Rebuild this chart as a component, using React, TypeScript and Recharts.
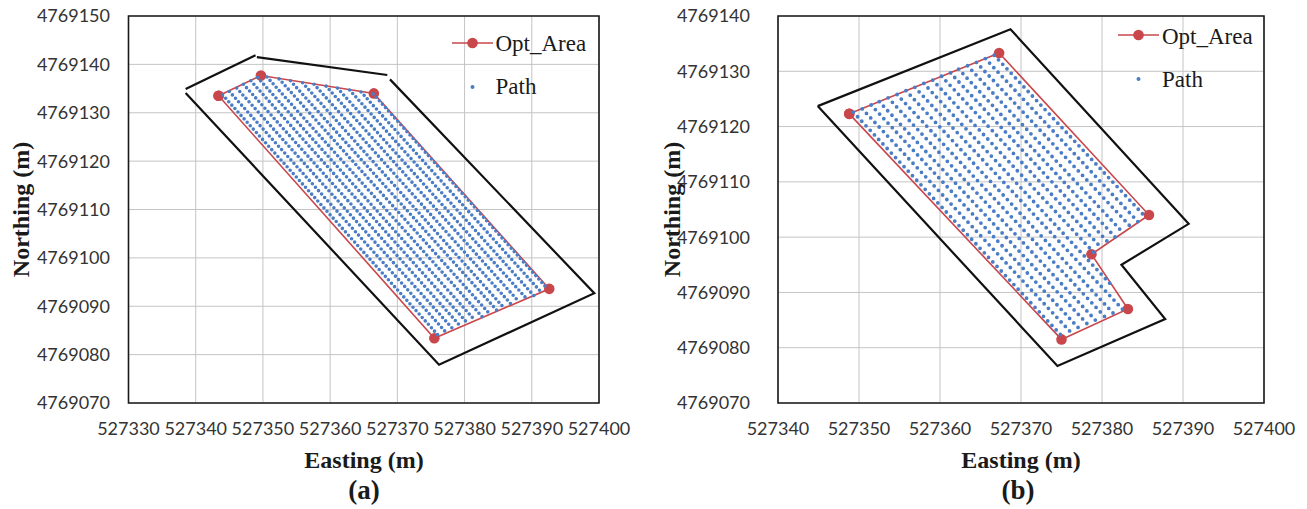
import React from 'react';
import {
  ScatterChart,
  Scatter,
  XAxis,
  YAxis,
  CartesianGrid,
  ReferenceArea,
  Legend,
} from 'recharts';

// ---------- colours / fonts ----------
const RED = '#C9474A';
const BLUE = '#4A7DC6';
const SERIF = '"Liberation Serif", "Times New Roman", serif';
const SANS = 'Lato, "Open Sans", sans-serif';

type P = { x: number; y: number };

// ---------- tick labels ----------
const xTicksA = [527330, 527340, 527350, 527360, 527370, 527380, 527390, 527400];
const yTicksA = [4769070, 4769080, 4769090, 4769100, 4769110, 4769120, 4769130, 4769140, 4769150];
const xTicksB = [527340, 527350, 527360, 527370, 527380, 527390, 527400];
const yTicksB = [4769070, 4769080, 4769090, 4769100, 4769110, 4769120, 4769130, 4769140];

const seriesNames = ['Opt_Area', 'Path'];

// ---------- panel (a) ----------
const boundaryA1: P[] = [
  { x: 527338.5, y: 4769134.9 },
  { x: 527348.9, y: 4769141.9 },
];
const boundaryA2: P[] = [
  { x: 527349.1, y: 4769141.5 },
  { x: 527368.5, y: 4769137.8 },
];
const boundaryA3: P[] = [
  { x: 527368.9, y: 4769136.9 },
  { x: 527399.3, y: 4769092.7 },
  { x: 527376.2, y: 4769077.9 },
  { x: 527338.5, y: 4769134.1 },
];
const optAreaA: P[] = [
  { x: 527343.4, y: 4769133.5 },
  { x: 527349.7, y: 4769137.7 },
  { x: 527366.5, y: 4769134.0 },
  { x: 527392.6, y: 4769093.6 },
  { x: 527375.5, y: 4769083.4 },
  { x: 527343.4, y: 4769133.5 },
];
const pathStartA: P[] = [
  { x: 527344.0, y: 4769133.7 },
  { x: 527345.0, y: 4769134.4 },
  { x: 527346.1, y: 4769135.1 },
  { x: 527347.1, y: 4769135.9 },
  { x: 527348.2, y: 4769136.6 },
  { x: 527349.2, y: 4769137.3 },
  { x: 527350.6, y: 4769137.4 },
  { x: 527352.4, y: 4769137.0 },
  { x: 527354.1, y: 4769136.6 },
  { x: 527355.9, y: 4769136.2 },
  { x: 527357.6, y: 4769135.9 },
  { x: 527359.4, y: 4769135.5 },
  { x: 527361.1, y: 4769135.1 },
  { x: 527362.9, y: 4769134.7 },
  { x: 527364.6, y: 4769134.3 },
  { x: 527366.4, y: 4769133.9 },
];
const pathEndA: P[] = [
  { x: 527376.2, y: 4769083.8 },
  { x: 527377.3, y: 4769084.5 },
  { x: 527378.4, y: 4769085.1 },
  { x: 527379.5, y: 4769085.7 },
  { x: 527380.5, y: 4769086.4 },
  { x: 527381.6, y: 4769087.0 },
  { x: 527382.7, y: 4769087.7 },
  { x: 527383.8, y: 4769088.3 },
  { x: 527384.9, y: 4769089.0 },
  { x: 527385.9, y: 4769089.6 },
  { x: 527387.0, y: 4769090.3 },
  { x: 527388.1, y: 4769090.9 },
  { x: 527389.2, y: 4769091.6 },
  { x: 527390.3, y: 4769092.2 },
  { x: 527391.4, y: 4769092.9 },
  { x: 527392.4, y: 4769093.5 },
];

// ---------- panel (b) ----------
const boundaryB: P[] = [
  { x: 527344.9, y: 4769123.7 },
  { x: 527368.7, y: 4769137.6 },
  { x: 527390.7, y: 4769102.4 },
  { x: 527382.4, y: 4769095.0 },
  { x: 527387.8, y: 4769085.2 },
  { x: 527374.5, y: 4769076.7 },
  { x: 527344.9, y: 4769123.7 },
];
const optAreaB: P[] = [
  { x: 527348.8, y: 4769122.3 },
  { x: 527367.3, y: 4769133.3 },
  { x: 527385.8, y: 4769104.0 },
  { x: 527378.7, y: 4769096.9 },
  { x: 527383.2, y: 4769087.0 },
  { x: 527375.0, y: 4769081.5 },
  { x: 527348.8, y: 4769122.3 },
];
const pathStartB: P[] = [
  { x: 527349.3, y: 4769122.6 },
  { x: 527350.4, y: 4769123.2 },
  { x: 527351.5, y: 4769123.9 },
  { x: 527352.5, y: 4769124.5 },
  { x: 527353.6, y: 4769125.2 },
  { x: 527354.7, y: 4769125.8 },
  { x: 527355.8, y: 4769126.5 },
  { x: 527356.9, y: 4769127.1 },
  { x: 527358.0, y: 4769127.8 },
  { x: 527359.1, y: 4769128.4 },
  { x: 527360.2, y: 4769129.1 },
  { x: 527361.3, y: 4769129.7 },
  { x: 527362.3, y: 4769130.4 },
  { x: 527363.4, y: 4769131.0 },
  { x: 527364.5, y: 4769131.6 },
  { x: 527365.6, y: 4769132.3 },
  { x: 527366.7, y: 4769132.9 },
];
const pathEndB: P[] = [
  { x: 527375.3, y: 4769081.7 },
  { x: 527376.4, y: 4769082.4 },
  { x: 527377.4, y: 4769083.1 },
  { x: 527378.5, y: 4769083.8 },
  { x: 527379.5, y: 4769084.5 },
  { x: 527380.6, y: 4769085.2 },
  { x: 527381.6, y: 4769085.9 },
  { x: 527382.7, y: 4769086.7 },
  { x: 527381.3, y: 4769091.1 },
  { x: 527379.0, y: 4769097.2 },
  { x: 527379.9, y: 4769098.1 },
  { x: 527380.8, y: 4769099.0 },
  { x: 527381.7, y: 4769099.9 },
  { x: 527382.6, y: 4769100.8 },
  { x: 527383.6, y: 4769101.8 },
  { x: 527384.5, y: 4769102.7 },
  { x: 527385.4, y: 4769103.6 },
];

// ---------- helpers ----------
const NoShape = () => <g />;
const RedDot = (props: any) =>
  props.cx == null ? <g /> : <circle cx={props.cx} cy={props.cy} r={5.3} fill={RED} />;

function LegendBox({ textX, dy }: { textX: number; dy: number }) {
  return (
    <svg width={170} height={75} style={{ overflow: 'visible', display: 'block' }}>
      <line x1={0} y1={10} x2={41} y2={10} stroke={RED} strokeWidth={1.6} />
      <circle cx={20.5} cy={10} r={5.3} fill={RED} />
      <text x={textX} y={18 + dy} fontFamily={SERIF} fontSize={23} fill="#1a1a1a">
        {seriesNames[0]}
      </text>
      <circle cx={20.5} cy={54} r={2} fill={BLUE} />
      <text x={textX} y={61 + dy} fontFamily={SERIF} fontSize={23} fill="#1a1a1a">
        {seriesNames[1]}
      </text>
    </svg>
  );
}

type PanelProps = {
  left: number;
  width: number;
  margin: { top: number; right: number; bottom: number; left: number };
  xTicks: number[];
  yTicks: number[];
  yTickMargin: number;
  boundaries: P[][];
  optArea: P[];
  pathStart: P[];
  pathEnd: P[];
  dash: string;
  dotSize: number;
  legendPos: { left: number; top: number };
  legendTextX: number;
  legendDy: number;
};

function Panel(p: PanelProps) {
  const xd: [number, number] = [p.xTicks[0], p.xTicks[p.xTicks.length - 1]];
  const yd: [number, number] = [p.yTicks[0], p.yTicks[p.yTicks.length - 1]];
  const tickStyle = { fill: '#333', fontSize: 18, fontFamily: SANS };
  return (
    <div style={{ position: 'absolute', left: p.left, top: 0 }}>
      <ScatterChart width={p.width} height={509} margin={p.margin}>
        <CartesianGrid stroke="#c4c4c4" strokeWidth={1} />
        <XAxis
          type="number"
          dataKey="x"
          domain={xd}
          ticks={p.xTicks}
          interval={0}
          allowDataOverflow
          axisLine={false}
          tickLine={false}
          tickSize={0}
          tickMargin={19}
          height={40}
          tick={tickStyle}
        />
        <YAxis
          type="number"
          dataKey="y"
          domain={yd}
          ticks={p.yTicks}
          interval={0}
          allowDataOverflow
          axisLine={false}
          tickLine={false}
          tickSize={0}
          tickMargin={p.yTickMargin}
          width={120}
          tick={tickStyle}
        />
        <ReferenceArea
          x1={xd[0]}
          x2={xd[1]}
          y1={yd[0]}
          y2={yd[1]}
          fill="none"
          fillOpacity={0}
          stroke="#1a1a1a"
          strokeWidth={1.6}
        />
        {p.boundaries.map((b, i) => (
          <Scatter
            key={'b' + i}
            data={b}
            fill="#000"
            line={{ stroke: '#111', strokeWidth: 2.2 }}
            shape={NoShape}
            legendType="none"
            isAnimationActive={false}
          />
        ))}
        <Scatter
          name={seriesNames[0]}
          data={p.optArea}
          fill={RED}
          line={{ stroke: RED, strokeWidth: 1.6 }}
          shape={RedDot}
          isAnimationActive={false}
        />
        {p.pathStart.map((s, i) => (
          <Scatter
            key={'p' + i}
            name={i === 0 ? seriesNames[1] : undefined}
            data={[s, p.pathEnd[i]]}
            fill={BLUE}
            line={{
              stroke: BLUE,
              strokeWidth: p.dotSize,
              strokeDasharray: p.dash,
              strokeLinecap: 'round',
            }}
            shape={NoShape}
            legendType="none"
            isAnimationActive={false}
          />
        ))}
        <Legend
          layout="horizontal"
          verticalAlign="middle"
          align="center"
          wrapperStyle={{ left: p.legendPos.left, top: p.legendPos.top, width: 170 }}
          content={() => <LegendBox textX={p.legendTextX} dy={p.legendDy} />}
        />
      </ScatterChart>
    </div>
  );
}

export default function App() {
  const titleStyle = {
    fontFamily: SERIF,
    fontWeight: 700,
    fill: '#1a1a1a',
  } as const;
  return (
    <div
      style={{
        position: 'absolute',
        left: 0,
        top: 0,
        width: 1307,
        height: 509,
        background: '#fff',
        overflow: 'hidden',
      }}
    >
      <Panel
        left={0}
        width={640}
        margin={{ top: 16, right: 41, bottom: 66, left: 8.5 }}
        xTicks={xTicksA}
        yTicks={yTicksA}
        yTickMargin={18.5}
        boundaries={[boundaryA1, boundaryA2, boundaryA3]}
        optArea={optAreaA}
        pathStart={pathStartA}
        pathEnd={pathEndA}
        dash="0 4.6"
        dotSize={3.6}
        legendPos={{ left: 451.5, top: 32.7 }}
        legendTextX={43.5}
        legendDy={-0.5}
      />
      <Panel
        left={640}
        width={667}
        margin={{ top: 16, right: 43, bottom: 66, left: 18 }}
        xTicks={xTicksB}
        yTicks={yTicksB}
        yTickMargin={28}
        boundaries={[boundaryB]}
        optArea={optAreaB}
        pathStart={pathStartB}
        pathEnd={pathEndB}
        dash="0 6.2"
        dotSize={3.8}
        legendPos={{ left: 478, top: 25 }}
        legendTextX={44}
        legendDy={0.5}
      />
      <svg
        width={1307}
        height={509}
        style={{ position: 'absolute', left: 0, top: 0, pointerEvents: 'none' }}
      >
        <text {...titleStyle} fontSize={24} textAnchor="middle" transform="translate(29,209.5) rotate(-90)">
          Northing (m)
        </text>
        <text {...titleStyle} fontSize={24} textAnchor="middle" x={364} y={468}>
          Easting (m)
        </text>
        <text {...titleStyle} fontSize={27} textAnchor="middle" x={364} y={499}>
          (a)
        </text>
        <text {...titleStyle} fontSize={24} textAnchor="middle" transform="translate(680,209.5) rotate(-90)">
          Northing (m)
        </text>
        <text {...titleStyle} fontSize={24} textAnchor="middle" x={1021} y={468}>
          Easting (m)
        </text>
        <text {...titleStyle} fontSize={27} textAnchor="middle" x={1018} y={499}>
          (b)
        </text>
      </svg>
    </div>
  );
}
